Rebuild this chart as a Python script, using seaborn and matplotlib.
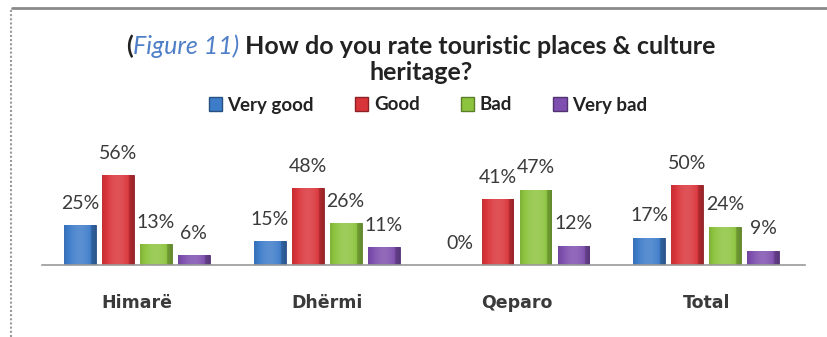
import numpy as np
import pandas as pd
import matplotlib
matplotlib.use("Agg")
import matplotlib.pyplot as plt
from matplotlib.lines import Line2D
from matplotlib.patches import Patch
from matplotlib.colors import to_rgb
import seaborn as sns

# Survey data: share of answers per place
places = ["Himarë", "Dhërmi", "Qeparo", "Total"]
ratings = ["Very good", "Good", "Bad", "Very bad"]
very_good = [25, 15, 0, 17]
good = [56, 48, 41, 50]
bad = [13, 26, 47, 24]
very_bad = [6, 11, 12, 9]

colors = ["#3d7cc9", "#d9343a", "#8dc43f", "#7e4fae"]

rows = []
for rating, vals in zip(ratings, [very_good, good, bad, very_bad]):
    for place, v in zip(places, vals):
        rows.append({"place": place, "rating": rating, "value": v})
df = pd.DataFrame(rows)

sns.set_theme(style="white")
plt.rcParams["font.family"] = ["DejaVu Sans"]

fig = plt.figure(figsize=(8.27, 3.37), dpi=100)
fig.patch.set_facecolor("white")
ax = fig.add_axes([0.0508, 0.2136, 0.9226, 0.3323])

sns.barplot(data=df, x="place", y="value", hue="rating", order=places,
            hue_order=ratings, palette=colors, width=0.8, gap=0.16,
            ax=ax, legend=False, saturation=1, errorbar=None)

ax.set_xlim(-0.5, 3.52)
ax.set_ylim(0, 70)


def shade(c, f):
    r = np.array(to_rgb(c))
    if f >= 0:
        return r + (1 - r) * f
    return r * (1 + f)


# glossy horizontal shading on each bar
for container, col in zip(ax.containers, colors):
    for bar in container:
        x0, w = bar.get_x(), bar.get_width()
        h = bar.get_height()
        bar.set_edgecolor(shade(col, -0.35))
        bar.set_linewidth(0.6)
        if h <= 0:
            continue
        t = np.linspace(0, 1, 64)
        prof = 0.25 * np.sin(np.pi * t) - 0.2 * (t > 0.85) - 0.1
        img = np.array([[np.clip(shade(col, p), 0, 1) for p in prof]])
        im = ax.imshow(img, extent=[x0, x0 + w, 0, h], aspect="auto",
                       zorder=bar.get_zorder() + 0.1, interpolation="bilinear")
        im.set_clip_path(bar)
        ax.set_xlim(-0.5, 3.52)
        ax.set_ylim(0, 70)

# value labels above bars
for container, vals in zip(ax.containers, [very_good, good, bad, very_bad]):
    for bar, v in zip(container, vals):
        ax.annotate(f"{v}%", (bar.get_x() + bar.get_width() / 2, v),
                    xytext=(0, 22), textcoords="offset pixels",
                    ha="center", va="center", fontsize=14,
                    family="Lato", color="#3a3a3a", annotation_clip=False)

sns.despine(ax=ax, left=True, top=True, right=True)
ax.spines["bottom"].set_color("#9a9a9a")
ax.spines["bottom"].set_linewidth(1.2)
ax.set_yticks([])
ax.set_xlabel("")
ax.set_ylabel("")
ax.tick_params(axis="x", length=0, pad=21)
for lab in ax.get_xticklabels():
    lab.set_fontsize(12.5)
    lab.set_fontweight("bold")
    lab.set_color("#3a3a3a")

# title with blue italic figure number
tsize = 18
tfont = dict(fontsize=tsize, family="Lato", fontweight="bold", color="#222222")
y1 = 1 - 46 / 337
p1 = fig.text(0.5, y1, "(", va="center", ha="left", **tfont)
p2 = ax.annotate("Figure 11)", xy=(1, 0), xycoords=p1, va="bottom", ha="left",
                 fontsize=tsize, family="Lato", fontstyle="italic",
                 color="#4f7fc7")
p3 = ax.annotate(" How do you rate touristic places & culture", xy=(1, 0),
                 xycoords=p2, va="bottom", ha="left", **tfont)
fig.canvas.draw()
r = fig.canvas.get_renderer()
bb1 = p1.get_window_extent(r)
bb3 = p3.get_window_extent(r)
total = bb3.x1 - bb1.x0
p1.set_x((421 - total / 2) / 827)
fig.text(421 / 827, 1 - 73 / 337, "heritage?", va="center", ha="center", **tfont)

handles = [Patch(facecolor=c, edgecolor=shade(c, -0.35)) for c in colors]
fig.legend(handles, ratings, loc="center", bbox_to_anchor=(428 / 827, 1 - 105 / 337),
           ncol=4, frameon=False, handlelength=0.7, handleheight=0.7,
           handletextpad=0.3, columnspacing=2.2,
           prop={"family": "Lato", "weight": "bold", "size": 13.5},
           labelcolor="#222222")

# outer frame: top rule and dotted left edge
fig.add_artist(Line2D([12 / 827, 1], [1 - 8 / 337, 1 - 8 / 337],
                      transform=fig.transFigure, color="#8a8a8a", lw=2))
fig.add_artist(Line2D([11 / 827, 11 / 827], [0, 1 - 8 / 337],
                      transform=fig.transFigure, color="#9a9a9a", lw=1.5,
                      linestyle=(0, (1, 1))))

fig.savefig("out.png", dpi=100, facecolor="white")
